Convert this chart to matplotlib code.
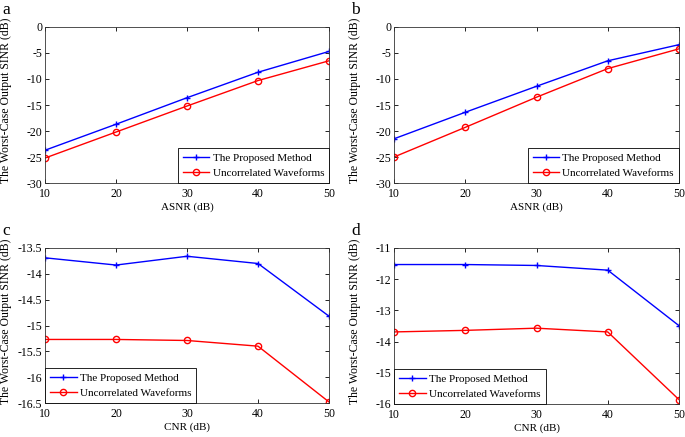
import matplotlib.pyplot as plt
import numpy as np

plt.rcParams['font.family'] = ['Liberation Serif', 'DejaVu Serif']
plt.rcParams['font.size'] = 8

x = [10, 20, 30, 40, 50]

# panel a
a_proposed = [-23.7, -18.7, -13.6, -8.7, -4.7]
a_uncorr = [-25.2, -20.2, -15.2, -10.3, -6.5]
# panel b
b_proposed = [-21.5, -16.4, -11.4, -6.5, -3.4]
b_uncorr = [-25.0, -19.3, -13.5, -8.0, -4.2]
# panel c
c_proposed = [-13.69, -13.83, -13.66, -13.80, -14.82]
c_uncorr = [-15.27, -15.27, -15.29, -15.40, -16.48]
# panel d
d_proposed = [-11.53, -11.53, -11.56, -11.71, -13.49]
d_uncorr = [-13.69, -13.64, -13.57, -13.69, -15.86]

ylabel = 'The Worst-Case Output SINR (dB)'
legend_labels = ['The Proposed Method', 'Uncorrelated Waveforms']

panels = [
    ('a', a_proposed, a_uncorr, 'ASNR (dB)', (-30, 0), np.arange(-30, 1, 5), 'lower right'),
    ('b', b_proposed, b_uncorr, 'ASNR (dB)', (-30, 0), np.arange(-30, 1, 5), 'lower right'),
    ('c', c_proposed, c_uncorr, 'CNR (dB)', (-16.5, -13.5), np.arange(-16.5, -13.4, 0.5), 'lower left'),
    ('d', d_proposed, d_uncorr, 'CNR (dB)', (-16, -11), np.arange(-16, -10.9, 1), 'lower left'),
]

W, H = 685, 437
fig = plt.figure(figsize=(W / 100, H / 100), dpi=100)

# axes boxes in pixels: left, top, right, bottom
boxes = [(45, 27, 329, 183), (394, 27, 679, 183),
         (45, 248, 329, 403), (394, 248, 679, 404)]

for (letter, yp, yu, xl, ylim, yticks, loc), (l, t, r, b) in zip(panels, boxes):
    ax = fig.add_axes([l / W, 1 - b / H, (r - l) / W, (b - t) / H])
    ax.plot(x, yp, color='#0000ff', marker='+', markersize=5, linewidth=1.0,
            label=legend_labels[0])
    ax.plot(x, yu, color='#ff0000', marker='o', markersize=4.5, markerfacecolor='none',
            linewidth=1.0, label=legend_labels[1])
    ax.set_xlim(10, 50)
    ax.set_ylim(*ylim)
    ax.set_xticks(x)
    ax.set_yticks(yticks)
    ax.set_yticklabels(['%g' % v for v in yticks])
    ax.tick_params(direction='in', top=True, right=True, length=3, width=0.6,
                   labelsize=8.5)
    ax.tick_params(axis='x', pad=3.5)
    ax.tick_params(axis='y', pad=2)
    for s in ax.spines.values():
        s.set_linewidth(0.6)
        s.set_color('#333333')
    ax.set_xlabel(xl, labelpad=2)
    ax.set_ylabel(ylabel, fontsize=8.5)
    ax.yaxis.set_label_coords(-0.116, 0.53)
    leg = ax.legend(loc=loc, fancybox=False, edgecolor='black', framealpha=1,
                    borderaxespad=0.0, handlelength=2.4, handletextpad=0.3,
                    borderpad=0.45, labelspacing=0.5, fontsize=8)
    leg.get_frame().set_linewidth(0.6)
    fig.text((l - 43) / W, 1 - (t - 13) / H, letter, fontsize=12.5,
             va='baseline', ha='left')

fig.savefig('out.png', dpi=100)
